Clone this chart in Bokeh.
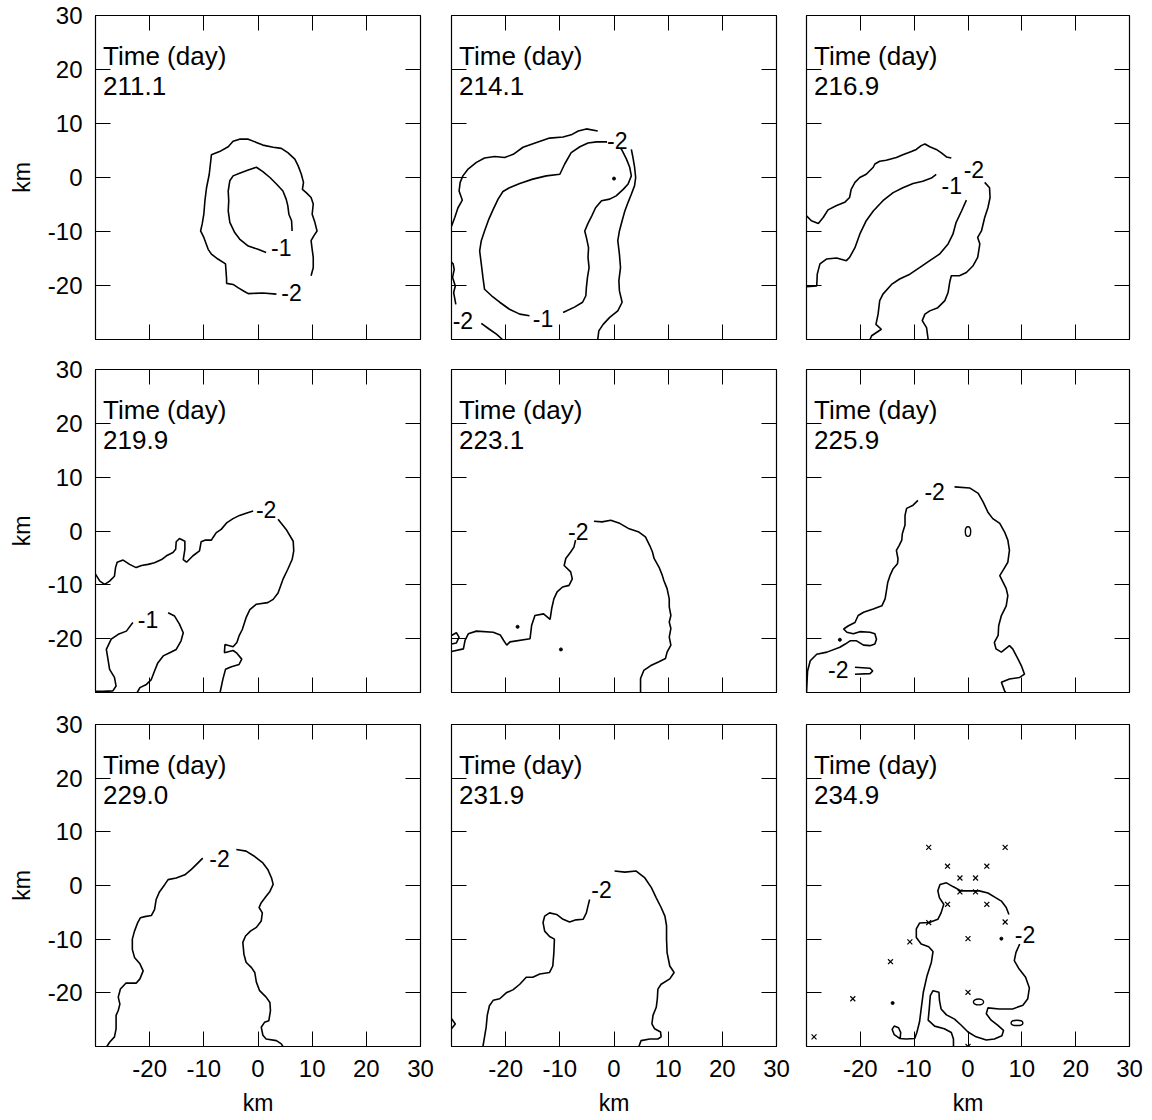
from bokeh.plotting import figure
from bokeh.layouts import gridplot
from bokeh.models import Range1d, LinearAxis, FixedTicker
from bokeh.embed import file_html
from bokeh.resources import INLINE
from bokeh.core.properties import value

FONT = "Liberation Sans"

# ---------------------------------------------------------------------------
# Data: contour paths (km), contour labels, station marks
# ---------------------------------------------------------------------------
days = ["211.1", "214.1", "216.9", "219.9", "223.1", "225.9", "229.0", "231.9", "234.9"]
inner_ticks = [-20, -10, 0, 10, 20]
outer_ticks = [-20, -10, 0, 10, 20, 30]
outer_tick_labels = ["-20", "-10", "0", "10", "20", "30"]

# day 211.1
t211_m2 = [(3.4, -21.6), (0.9, -21.4), (-1.8, -21.5), (-2.5, -21.1), (-3.7, -20.4), (-4.6, -19.8),
           (-5.8, -19.6), (-5.8, -18.8), (-6.0, -16.0), (-7.4, -15.1), (-8.6, -14.2), (-9.2, -13.3),
           (-10.0, -11.1), (-10.6, -9.9), (-10.3, -8.6), (-10.0, -6.8), (-9.8, -4.3), (-9.5, -1.9),
           (-9.0, 0.6), (-8.6, 4.2), (-7.1, 4.8), (-5.5, 5.7), (-4.6, 6.7), (-3.4, 7.1), (-1.8, 7.1),
           (-0.3, 6.5), (0.9, 6.0), (2.8, 5.6), (4.3, 5.4), (5.5, 4.6), (6.8, 3.4), (7.4, 2.2),
           (8.0, 0.6), (8.4, -0.9), (8.2, -2.2), (8.9, -2.8), (9.8, -3.7), (10.2, -4.9), (10.0, -6.8),
           (10.5, -8.3), (10.9, -9.9), (10.3, -10.8), (9.8, -11.7), (10.0, -13.3), (10.2, -14.8),
           (10.2, -16.7), (9.8, -18.2)]
t211_m1 = [(1.5, -13.9), (0.0, -13.3), (-1.8, -12.7), (-3.4, -11.4), (-4.3, -10.2), (-5.2, -8.3),
           (-5.5, -6.2), (-5.4, -4.3), (-5.5, -2.5), (-5.2, -0.6), (-4.6, 0.3), (-3.4, 0.8),
           (-1.8, 1.4), (-0.3, 1.9), (0.9, 1.1), (2.2, 0.0), (3.4, -1.2), (4.6, -2.5), (5.2, -4.0),
           (5.5, -5.2), (5.7, -6.8), (6.2, -8.0), (6.3, -9.9)]
t211_labels = [(4.3, -13.0, "-1"), (6.2, -21.3, "-2")]

# day 214.1
t214_m2a = [(-3.0, 8.6), (-5.1, 9.0), (-6.6, 8.6), (-7.9, 7.9), (-9.4, 7.5), (-11.9, 7.3), (-14.3, 6.5),
            (-16.8, 5.6), (-18.6, 4.3), (-20.2, 3.7), (-22.0, 3.9), (-23.9, 3.6), (-25.4, 2.8),
            (-27.0, 1.5), (-27.9, 0.3), (-28.4, -0.9), (-28.6, -2.5), (-28.0, -4.2), (-28.8, -5.6),
            (-29.4, -7.4), (-30.0, -9.0)]
t214_m2b = [(-30.0, -15.7), (-29.7, -16.0), (-29.5, -17.0), (-29.8, -18.5), (-29.3, -20.1),
            (-29.6, -21.3), (-29.2, -23.5)]
t214_m2c = [(-24.5, -27.0), (-23.0, -28.1), (-21.7, -29.0), (-20.6, -30.0)]
t214_m2d = [(3.2, 5.2), (3.5, 3.7), (3.8, 1.9), (4.0, 0.0), (3.8, -1.5), (3.2, -3.1), (2.6, -4.6),
            (2.0, -6.2), (1.5, -8.0), (1.0, -9.9), (0.7, -11.7), (1.0, -14.2), (1.2, -16.7),
            (0.9, -19.1), (1.0, -21.0), (1.5, -23.1), (0.7, -24.7), (-0.8, -25.9), (-2.0, -27.2),
            (-2.8, -28.4), (-3.0, -30.0)]
t214_m1 = [(-9.4, -25.0), (-7.3, -24.0), (-5.8, -23.1), (-5.2, -21.9), (-5.1, -20.4), (-4.9, -18.5),
           (-4.6, -16.7), (-4.8, -14.8), (-4.7, -13.0), (-5.1, -11.1), (-5.4, -9.9), (-4.8, -8.5),
           (-4.1, -7.1), (-3.4, -5.6), (-2.3, -4.3), (-0.8, -4.0), (0.4, -3.4), (1.7, -2.2),
           (2.6, -1.2), (3.2, 0.3), (2.9, 1.9), (2.3, 3.4), (1.4, 5.2), (0.4, 6.3), (-1.4, 6.6),
           (-3.2, 6.6), (-4.8, 6.4), (-6.3, 5.7), (-7.9, 4.6), (-9.1, 2.5), (-10.0, 0.6),
           (-12.5, 0.3), (-15.0, -0.3), (-17.4, -1.1), (-19.3, -1.9), (-20.5, -2.6), (-21.4, -4.0),
           (-22.3, -5.9), (-23.1, -7.7), (-23.9, -9.9), (-24.5, -11.7), (-24.8, -13.6),
           (-24.5, -16.0), (-24.2, -18.5), (-23.9, -20.7), (-22.6, -21.9), (-21.1, -23.1),
           (-19.3, -24.4), (-17.4, -25.3), (-15.6, -25.6)]
t214_labels = [(0.6, 6.9, "-2"), (-27.9, -26.5, "-2"), (-13.1, -26.2, "-1")]
t214_dots = [(0.0, -0.2)]

# day 216.9
t216_m2a = [(-30.0, -7.1), (-29.1, -8.0), (-27.8, -8.5), (-26.9, -7.4), (-26.0, -6.0), (-24.4, -5.2),
            (-22.9, -4.6), (-22.0, -3.7), (-21.7, -2.2), (-21.0, -0.9), (-20.1, 0.0), (-18.9, 0.6),
            (-17.6, 1.9), (-17.3, 2.5), (-16.4, 3.0), (-15.2, 3.2), (-13.3, 3.7), (-12.1, 4.2),
            (-10.5, 4.8), (-9.6, 5.2), (-8.7, 5.9), (-8.0, 6.2), (-7.1, 5.7), (-5.9, 5.2),
            (-5.0, 4.6), (-4.0, 3.8), (-3.1, 3.6)]
t216_m2b = [(3.1, -0.9), (4.0, -1.9), (4.1, -3.7), (3.7, -5.6), (3.1, -7.4), (2.5, -9.9), (1.8, -11.1),
            (2.2, -12.3), (1.8, -14.8), (0.9, -16.4), (-0.3, -17.6), (-1.6, -18.2), (-3.1, -18.2),
            (-3.4, -19.4), (-3.7, -21.3), (-4.3, -22.8), (-5.6, -24.1), (-7.1, -24.7), (-8.0, -25.3),
            (-8.5, -26.5), (-7.7, -27.8), (-7.4, -30.0)]
t216_m1a = [(-30.0, -20.2), (-28.1, -20.1), (-28.0, -17.9), (-27.5, -16.0), (-26.3, -15.1),
            (-24.4, -14.9), (-22.6, -15.4), (-22.0, -14.8), (-21.0, -13.0), (-20.1, -10.5),
            (-18.9, -8.0), (-17.6, -6.2), (-15.8, -4.3), (-13.9, -2.8), (-12.1, -1.9), (-10.2, -1.1),
            (-8.4, -0.7), (-6.8, -0.1), (-5.9, 0.6)]
t216_m1b = [(-0.3, -4.2), (-1.2, -6.2), (-2.2, -8.3), (-2.8, -10.5), (-3.7, -12.3), (-5.3, -14.2),
            (-7.1, -15.4), (-9.0, -16.7), (-10.8, -17.9), (-12.7, -18.8), (-14.2, -19.8),
            (-15.8, -21.6), (-16.4, -22.8), (-16.7, -25.3), (-17.1, -27.2), (-16.1, -28.1),
            (-17.0, -28.7), (-17.9, -29.3), (-18.2, -30.0)]
t216_labels = [(1.1, 1.4, "-2"), (-3.0, -1.4, "-1")]

# day 219.9
t219_m2a = [(-30.0, -8.0), (-29.2, -9.3), (-28.3, -9.9), (-27.4, -9.3), (-26.5, -8.4), (-26.3, -6.8),
            (-26.0, -5.8), (-24.9, -5.4), (-23.7, -6.2), (-22.5, -6.8), (-21.5, -6.4), (-20.3, -6.2),
            (-19.1, -5.9), (-17.8, -5.3), (-16.9, -4.6), (-15.7, -4.0), (-15.2, -3.4), (-15.1, -2.0),
            (-14.5, -1.4), (-13.5, -1.9), (-13.5, -3.4), (-13.8, -5.3), (-13.2, -5.8), (-12.0, -4.6),
            (-10.8, -3.7), (-10.5, -2.0), (-9.8, -1.7), (-8.6, -1.7), (-8.3, -1.2), (-7.7, -0.3),
            (-6.8, 0.3), (-5.8, 1.5), (-4.6, 2.3), (-3.4, 2.9), (-2.2, 3.3), (-0.9, 3.7)]
t219_m2b = [(3.7, 2.2), (5.2, 0.3), (6.5, -1.9), (6.6, -3.7), (6.3, -5.3), (5.5, -7.1), (4.6, -9.0),
            (3.7, -11.5), (2.8, -12.7), (1.8, -13.3), (-0.3, -13.6), (-1.5, -14.6), (-2.2, -16.1),
            (-2.9, -18.3), (-3.5, -19.5), (-3.9, -20.7), (-4.6, -21.5), (-6.1, -21.1), (-6.2, -22.6),
            (-4.6, -22.2), (-3.9, -22.7), (-3.0, -23.8), (-3.5, -24.8), (-4.9, -25.2), (-6.0, -25.7),
            (-6.5, -27.6), (-7.0, -30.0)]
t219_m1a = [(-23.1, -17.0), (-24.3, -18.6), (-25.8, -19.2), (-27.1, -20.1), (-28.0, -22.0),
            (-27.7, -23.8), (-27.4, -25.7), (-26.5, -27.2), (-26.2, -28.8), (-26.8, -29.7),
            (-28.6, -29.8), (-30.0, -29.8)]
t219_m1b = [(-16.6, -15.2), (-15.4, -15.8), (-14.5, -17.3), (-13.8, -18.9), (-14.2, -20.4),
            (-15.1, -22.0), (-16.3, -22.6), (-17.5, -23.2), (-18.5, -24.5), (-19.1, -26.0),
            (-19.7, -27.6), (-20.6, -28.5), (-21.8, -29.1), (-22.3, -30.0)]
t219_labels = [(1.5, 4.0, "-2"), (-20.3, -16.4, "-1")]

# day 223.1
t223_m2a = [(-30.0, -22.4), (-27.8, -21.9), (-27.5, -20.3), (-26.9, -19.1), (-25.4, -18.6),
            (-22.3, -18.8), (-21.0, -19.3), (-20.4, -20.3), (-19.8, -21.2), (-19.2, -20.6),
            (-15.5, -20.0), (-15.2, -17.5), (-14.6, -15.7), (-13.0, -15.4), (-11.8, -16.4),
            (-11.5, -14.4), (-11.1, -12.6), (-10.5, -11.3), (-9.5, -10.4), (-8.3, -10.1), (-7.7, -8.9),
            (-8.0, -7.6), (-9.2, -6.4), (-8.9, -5.1), (-8.0, -3.9), (-7.4, -3.0), (-7.1, -1.7)]
t223_m2b = [(-3.7, 1.8), (-2.2, 1.7), (-0.6, 2.0), (0.9, 1.5), (2.8, 0.4), (4.6, -0.2), (5.8, -1.1),
            (6.6, -2.7), (7.1, -3.9), (7.4, -5.1), (8.3, -6.7), (8.9, -8.2), (9.2, -9.2), (9.8, -10.7),
            (10.2, -12.6), (10.2, -14.1), (10.5, -15.7), (10.2, -16.9), (10.5, -18.1), (10.2, -19.7),
            (10.5, -21.2), (9.8, -22.5), (9.5, -23.7), (8.3, -24.3), (6.8, -25.0), (5.5, -25.9),
            (4.9, -27.4), (4.9, -30.0)]
t223_m2c = [(-30.0, -19.4), (-29.1, -18.9), (-28.6, -19.7), (-29.1, -20.8), (-30.0, -21.0)]
t223_labels = [(-6.6, -0.1, "-2")]
t223_dots = [(-17.8, -17.8), (-9.8, -22.0)]

# day 225.9
t225_m2a = [(-2.5, 8.2), (0.3, 8.0), (1.9, 7.0), (2.8, 5.4), (3.7, 3.5), (4.6, 2.3), (5.9, 1.4),
            (6.8, -0.2), (7.4, -1.7), (7.7, -3.6), (7.4, -5.8), (6.5, -7.3), (5.9, -8.3), (6.5, -9.5),
            (7.1, -10.7), (7.4, -12.0), (7.1, -13.9), (6.2, -15.7), (5.7, -17.6), (5.6, -19.4),
            (4.9, -20.7), (5.2, -21.9), (6.2, -22.5), (7.7, -21.3), (8.3, -21.9), (9.3, -23.8),
            (9.9, -25.0), (10.5, -26.6), (9.6, -27.2), (7.7, -27.5), (6.2, -28.1), (6.8, -29.7),
            (7.0, -30.0)]
t225_m2b = [(-9.3, 5.7), (-10.2, 4.8), (-11.4, 4.2), (-11.7, 2.9), (-11.7, 1.1), (-12.2, -0.5),
            (-12.3, -1.7), (-12.8, -2.7), (-13.3, -3.6), (-13.0, -5.2), (-13.1, -6.1), (-13.9, -7.0),
            (-14.5, -8.3), (-14.9, -9.5), (-15.2, -11.4), (-15.4, -12.6), (-16.0, -13.9),
            (-17.6, -14.5), (-19.4, -15.1), (-20.4, -15.7), (-21.0, -17.0), (-22.2, -17.6),
            (-23.1, -18.2), (-22.5, -18.8), (-21.3, -19.1), (-20.1, -18.7), (-18.2, -18.8),
            (-17.3, -19.1), (-17.0, -20.1), (-17.3, -21.0), (-18.2, -21.3), (-19.4, -21.2),
            (-20.7, -20.4), (-21.9, -20.4), (-22.8, -21.0), (-23.8, -21.6), (-26.2, -22.5),
            (-28.1, -22.9), (-29.3, -24.1), (-29.8, -26.0), (-30.0, -30.0)]
t225_m2c = [(-21.0, -25.3), (-18.2, -25.5), (-17.7, -26.0), (-18.2, -26.5), (-21.0, -26.6)]
t225_labels = [(-6.2, 7.3, "-2"), (-24.1, -25.7, "-2")]
t225_loops = [(0.0, -0.1, 1.0, 1.8)]
t225_dots = [(-23.8, -20.2)]

# day 229.0
t229_m2a = [(-27.9, -30.0), (-27.4, -29.2), (-26.5, -28.2), (-26.2, -26.7), (-26.2, -24.2),
            (-25.8, -23.3), (-25.5, -22.1), (-25.8, -20.8), (-25.4, -19.3), (-24.4, -18.2),
            (-22.5, -18.2), (-21.8, -17.4), (-21.2, -15.9), (-21.8, -14.6), (-22.8, -13.4),
            (-23.2, -11.9), (-23.2, -10.0), (-22.8, -8.5), (-22.2, -6.9), (-21.7, -6.0), (-20.9, -5.8),
            (-19.7, -5.6), (-19.1, -4.5), (-18.8, -2.6), (-18.2, -1.2), (-17.2, 0.2), (-16.6, 1.1),
            (-15.1, 1.4), (-13.5, 2.0), (-12.3, 3.0), (-11.4, 3.9), (-10.2, 5.1)]
t229_m2b = [(-4.0, 6.7), (-2.2, 6.4), (-0.6, 5.4), (0.9, 4.2), (1.8, 3.0), (2.5, 1.4), (2.8, 0.2),
            (2.2, -1.1), (1.5, -2.0), (0.6, -3.2), (0.2, -4.1), (0.8, -5.1), (0.6, -6.6), (-0.3, -7.8),
            (-1.4, -8.5), (-2.3, -9.4), (-2.8, -10.6), (-2.6, -12.8), (-2.2, -14.3), (-1.2, -15.3),
            (-0.6, -16.2), (-0.3, -18.0), (0.3, -19.6), (1.5, -20.8), (2.2, -21.8), (2.3, -23.3),
            (2.0, -25.2), (1.2, -25.5), (0.6, -26.4), (0.9, -27.9), (1.5, -28.6), (3.4, -28.9),
            (4.3, -29.5), (4.6, -30.0)]
t229_labels = [(-7.1, 5.1, "-2")]

# day 231.9
t231_m2a = [(-24.2, -30.0), (-23.9, -28.2), (-23.6, -26.4), (-23.4, -24.2), (-23.0, -22.4),
            (-22.3, -21.4), (-21.1, -21.1), (-19.9, -20.0), (-18.6, -19.4), (-17.4, -18.4),
            (-16.2, -17.1), (-15.0, -17.1), (-13.7, -16.5), (-11.9, -16.2), (-11.3, -15.0),
            (-11.1, -12.5), (-11.0, -10.0), (-11.9, -9.5), (-12.8, -8.5), (-13.1, -6.9), (-12.8, -5.7),
            (-11.9, -5.1), (-10.6, -5.4), (-9.4, -6.3), (-8.2, -6.8), (-7.0, -6.4), (-5.7, -6.3),
            (-5.1, -5.1), (-4.8, -3.8), (-4.5, -2.6)]
t231_m2b = [(0.1, 2.7), (2.0, 2.5), (4.1, 2.7), (5.7, 1.4), (6.9, -0.4), (7.8, -2.3), (8.7, -4.1),
            (9.4, -5.7), (9.7, -7.5), (9.7, -10.0), (9.8, -12.5), (10.3, -15.0), (11.1, -16.2),
            (10.3, -17.4), (8.7, -18.4), (8.1, -19.3), (8.0, -21.1), (7.8, -22.7), (7.2, -24.2),
            (7.0, -25.8), (7.5, -26.7), (8.6, -27.3), (8.7, -28.2), (8.1, -28.6), (6.6, -28.6),
            (5.0, -28.9), (4.6, -30.0)]
t231_m2c = [(-30.0, -24.8), (-29.3, -25.8), (-30.0, -26.7)]
t231_labels = [(-2.3, -0.7, "-2")]

# day 234.9
t234_m2a = [(7.6, -5.4), (7.1, -4.1), (6.2, -2.9), (5.2, -2.3), (3.7, -1.4), (2.1, -1.0), (0.3, -1.0),
            (-1.3, -1.0), (-2.8, -0.2), (-4.0, 0.5), (-5.2, 0.2), (-5.6, -1.0), (-5.3, -2.3),
            (-4.5, -3.5), (-5.0, -5.1), (-5.6, -6.3), (-7.2, -6.9), (-9.0, -7.0), (-9.6, -8.1),
            (-9.6, -9.7), (-8.7, -10.9), (-7.3, -11.4), (-6.5, -12.3), (-6.8, -14.3), (-7.6, -16.8),
            (-8.3, -19.9), (-8.7, -23.0), (-9.0, -25.4), (-9.5, -27.4), (-9.9, -28.5), (-11.5, -28.6),
            (-12.7, -28.5), (-13.7, -27.8), (-14.1, -26.8), (-13.7, -26.2), (-12.9, -26.5),
            (-12.5, -27.4), (-12.6, -28.5)]
t234_m2b = [(9.6, -10.9), (8.9, -12.5), (8.6, -14.0), (9.4, -15.4), (10.7, -17.1), (11.4, -19.1),
            (11.1, -21.1), (10.2, -22.3), (8.3, -23.0), (5.8, -23.0), (3.7, -22.8), (3.4, -23.9),
            (4.3, -25.1), (5.5, -26.0), (6.6, -27.0), (6.3, -28.0), (4.9, -28.6), (3.4, -28.8),
            (1.5, -28.2), (0.0, -27.3), (-1.3, -26.0), (-2.5, -24.9), (-4.0, -24.1), (-5.0, -23.0),
            (-5.3, -21.4), (-5.4, -19.9), (-6.5, -19.6), (-7.0, -20.5), (-7.2, -23.0), (-7.4, -25.1),
            (-6.2, -26.2), (-4.4, -26.7), (-3.1, -27.4), (-2.7, -28.6), (-2.7, -30.0)]
t234_labels = [(10.6, -9.1, "-2")]
t234_loops = [(1.95, -21.7, 1.9, 1.1), (9.1, -25.6, 2.2, 1.0)]
t234_dots = [(6.2, -9.9), (-14.0, -21.9)]
station_x = [-7.3, 6.9, -3.8, 3.5, -1.5, 1.4, -1.5, 1.4, -3.8, 3.5, -7.3, 6.9, -10.8, 0.0,
             -14.4, -21.4, 0.0, -28.6, 0.0]
station_y = [7.1, 7.1, 3.6, 3.6, 1.4, 1.4, -1.2, -1.2, -3.5, -3.5, -6.9, -6.8, -10.5, -9.9,
             -14.2, -21.1, -19.9, -28.2, -30.0]

panels = [
    dict(day=days[0], lines=[t211_m2, t211_m1], labels=t211_labels),
    dict(day=days[1], lines=[t214_m2a, t214_m2b, t214_m2c, t214_m2d, t214_m1],
         labels=t214_labels, dots=t214_dots),
    dict(day=days[2], lines=[t216_m2a, t216_m2b, t216_m1a, t216_m1b], labels=t216_labels),
    dict(day=days[3], lines=[t219_m2a, t219_m2b, t219_m1a, t219_m1b], labels=t219_labels),
    dict(day=days[4], lines=[t223_m2a, t223_m2b, t223_m2c], labels=t223_labels, dots=t223_dots),
    dict(day=days[5], lines=[t225_m2a, t225_m2b, t225_m2c], labels=t225_labels,
         loops=t225_loops, dots=t225_dots),
    dict(day=days[6], lines=[t229_m2a, t229_m2b], labels=t229_labels),
    dict(day=days[7], lines=[t231_m2a, t231_m2b, t231_m2c], labels=t231_labels),
    dict(day=days[8], lines=[t234_m2a, t234_m2b], labels=t234_labels, loops=t234_loops,
         dots=t234_dots, stations=(station_x, station_y)),
]

# ---------------------------------------------------------------------------
# Layout geometry (pixels)
# ---------------------------------------------------------------------------
COL_LEFT = [95, 16, 15]
COL_FRAME = [325, 325, 323]
ROW_TOP = [15, 15, 16]
ROW_FRAME = [324, 323, 324]
ROW_BOTTOM = [15, 16, 70]
RIGHT = 15


def add_axis(p, side, labelled, label_text):
    ticks = outer_ticks if labelled else inner_ticks
    ax = LinearAxis(ticker=FixedTicker(ticks=ticks))
    ax.major_tick_in = 15
    ax.major_tick_out = 0
    ax.minor_tick_in = 0
    ax.minor_tick_out = 0
    ax.major_tick_line_color = "black"
    ax.major_tick_line_width = 1
    ax.axis_line_color = "black"
    ax.axis_line_width = 1.1
    if labelled:
        ax.major_label_overrides = dict(zip(outer_ticks, outer_tick_labels))
        ax.major_label_text_font = FONT
        ax.major_label_text_font_size = "24px"
        ax.major_label_text_color = "black"
        ax.major_label_standoff = 13
        ax.axis_label = label_text
        ax.axis_label_text_font = FONT
        ax.axis_label_text_font_size = "23px"
        ax.axis_label_text_font_style = "normal"
        ax.axis_label_text_color = "black"
        ax.axis_label_standoff = 10
    else:
        ax.major_label_overrides = {t: "" for t in ticks}
        ax.major_label_text_font_size = "6px"
        ax.major_label_standoff = 0
    p.add_layout(ax, side)


def make_panel(r, c, spec):
    lb, fw = COL_LEFT[c], COL_FRAME[c]
    tb, fh, bb = ROW_TOP[r], ROW_FRAME[r], ROW_BOTTOM[r]
    p = figure(width=lb + fw + RIGHT, height=tb + fh + bb,
               x_range=Range1d(-30, 30), y_range=Range1d(-30, 30),
               x_axis_location=None, y_axis_location=None,
               output_backend="svg", toolbar_location=None,
               min_border_left=lb, min_border_right=RIGHT,
               min_border_top=tb, min_border_bottom=bb)
    p.grid.visible = False
    p.outline_line_color = "black"
    p.outline_line_width = 1.1
    p.background_fill_color = "white"
    p.border_fill_color = "white"

    add_axis(p, "left", c == 0, "km")
    add_axis(p, "below", r == 2, "km")
    add_axis(p, "right", False, "")
    add_axis(p, "above", False, "")

    xs = [[pt[0] for pt in line] for line in spec["lines"]]
    ys = [[pt[1] for pt in line] for line in spec["lines"]]
    p.multi_line(xs=xs, ys=ys, line_color="black", line_width=1.6)

    for lx, ly, w, h in spec.get("loops", []):
        p.ellipse(x=[lx], y=[ly], width=[w], height=[h], fill_color=None,
                  line_color="black", line_width=1.4)
    dots = spec.get("dots", [])
    if dots:
        p.scatter(x=[d[0] for d in dots], y=[d[1] for d in dots], size=3,
                  color="black")
    if "stations" in spec:
        sx, sy = spec["stations"]
        p.scatter(x=sx, y=sy, marker="x", size=7, line_color="black", line_width=1.2)

    labs = spec["labels"]
    p.text(x=[l[0] for l in labs], y=[l[1] for l in labs], text=[l[2] for l in labs],
           text_font=value(FONT), text_font_size="23px", text_color="black",
           text_align="center", text_baseline="middle",
           background_fill_color="white")

    # panel caption: time stamp in the upper-left corner
    p.text(x=[-28.6, -28.6], y=[22.5, 16.9], text=["Time (day)", spec["day"]],
           text_font=value(FONT), text_font_size="26px", text_color="black",
           text_align="left", text_baseline="alphabetic")
    return p


grid = []
for r in range(3):
    row = []
    for c in range(3):
        row.append(make_panel(r, c, panels[3 * r + c]))
    grid.append(row)

layout = gridplot(grid, toolbar_location=None)

with open("out.html", "w") as f:
    f.write(file_html(layout, INLINE))
